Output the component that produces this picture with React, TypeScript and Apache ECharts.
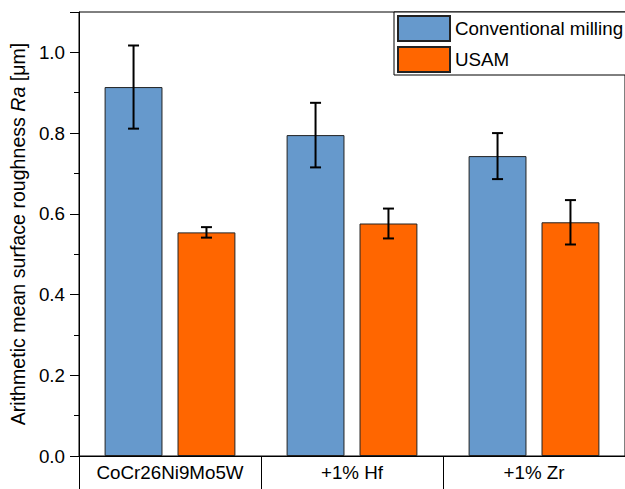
import React, { useEffect, useRef } from "react";
import * as echarts from "echarts";

const categories = ["CoCr26Ni9Mo5W", "+1% Hf", "+1% Zr"];
const seriesNames = ["Conventional milling", "USAM"];
const convMean = [0.914, 0.795, 0.743];
const convErr = [0.103, 0.08, 0.057];
const usamMean = [0.554, 0.576, 0.579];
const usamErr = [0.013, 0.037, 0.055];
const yTicks = { min: 0, max: 1.1, interval: 0.2 };

const FONT = "'Liberation Sans', Arial, sans-serif";
const BAR_W = 0.318;
const BAR_GAP = 0.26;

function errData(mean: number[], err: number[]) {
  return mean.map((m, i) => [i, m - err[i], m + err[i]]);
}

function makeErrRender(side: number) {
  return (params: any, api: any) => {
    const band = api.size([1, 0])[0];
    const bw = band * BAR_W;
    const off = side * (bw * (1 + BAR_GAP)) / 2;
    const lo = api.coord([api.value(0), api.value(1)]);
    const hi = api.coord([api.value(0), api.value(2)]);
    const x = lo[0] + off;
    const cap = 5.5;
    const style = { stroke: "#000", lineWidth: 2 };
    return {
      type: "group",
      children: [
        { type: "line", shape: { x1: x, y1: lo[1], x2: x, y2: hi[1] }, style },
        { type: "line", shape: { x1: x - cap, y1: lo[1], x2: x + cap, y2: lo[1] }, style },
        { type: "line", shape: { x1: x - cap, y1: hi[1], x2: x + cap, y2: hi[1] }, style },
      ],
    };
  };
}

export default function App() {
  const ref = useRef<HTMLDivElement>(null);
  useEffect(() => {
    document.body.style.margin = "0";
    document.body.style.overflow = "hidden";
    const chart = echarts.init(ref.current!, null, { renderer: "svg" });
    chart.setOption({
      animation: false,
      backgroundColor: "#fff",
      textStyle: { fontFamily: FONT, color: "#000" },
      grid: {
        left: 78,
        top: 12,
        right: -3.5,
        bottom: 33,
        show: true,
        borderColor: "#000",
        borderWidth: 1,
        containLabel: false,
      },
      legend: {
        orient: "vertical",
        left: 394,
        top: 12,
        data: seriesNames,
        icon: "rect",
        itemWidth: 52,
        itemHeight: 25,
        itemGap: 4,
        padding: [3, 40, 2, 3],
        borderColor: "#000",
        borderWidth: 1,
        backgroundColor: "#fff",
        textStyle: { fontFamily: FONT, fontSize: 18.8, color: "#000" },
      },
      xAxis: {
        type: "category",
        data: categories,
        boundaryGap: true,
        axisLine: { lineStyle: { color: "#000", width: 1 } },
        axisTick: { show: true, interval: 0, length: 40, inside: false, lineStyle: { color: "#000" } },
        axisLabel: { fontFamily: FONT, fontSize: 18.8, color: "#000", margin: 7, interval: 0 },
        splitLine: { show: false },
      },
      yAxis: {
        type: "value",
        min: yTicks.min,
        max: yTicks.max,
        interval: yTicks.interval,
        name: "Arithmetic mean surface roughness {i|Ra} [μm]",
        nameLocation: "middle",
        nameGap: 45,
        nameTextStyle: {
          fontFamily: FONT,
          fontSize: 19.6,
          color: "#000",
          rich: { i: { fontFamily: FONT, fontSize: 19.6, fontStyle: "italic", color: "#000" } },
        },
        axisLine: { show: true, lineStyle: { color: "#000", width: 1 } },
        axisTick: { show: true, length: 9, lineStyle: { color: "#000" } },
        minorTick: { show: true, splitNumber: 2, length: 5, lineStyle: { color: "#000" } },
        axisLabel: {
          fontFamily: FONT,
          fontSize: 18.8,
          color: "#000",
          margin: 14,
          formatter: (v: number) => v.toFixed(1),
          showMaxLabel: false,
        },
        splitLine: { show: false },
      },
      series: [
        {
          name: seriesNames[0],
          type: "bar",
          data: convMean,
          barWidth: (BAR_W * 100).toFixed(1) + "%",
          barGap: BAR_GAP * 100 + "%",
          itemStyle: { color: "#6699CC", borderColor: "#222", borderWidth: 1 },
        },
        {
          name: seriesNames[1],
          type: "bar",
          data: usamMean,
          barWidth: (BAR_W * 100).toFixed(1) + "%",
          barGap: BAR_GAP * 100 + "%",
          itemStyle: { color: "#FF6600", borderColor: "#222", borderWidth: 1 },
        },
        {
          type: "custom",
          renderItem: makeErrRender(-1),
          data: errData(convMean, convErr),
          encode: { x: 0, y: [1, 2] },
          z: 5,
          silent: true,
        },
        {
          type: "custom",
          renderItem: makeErrRender(1),
          data: errData(usamMean, usamErr),
          encode: { x: 0, y: [1, 2] },
          z: 5,
          silent: true,
        },
      ],
    });
    return () => chart.dispose();
  }, []);
  return <div ref={ref} style={{ width: 625, height: 489 }} />;
}
